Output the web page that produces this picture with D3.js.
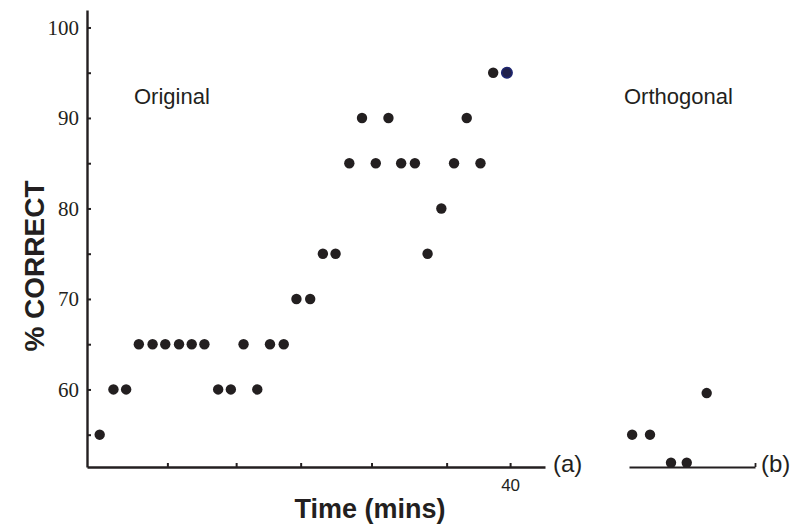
<!DOCTYPE html>
<html>
<head>
<meta charset="utf-8">
<script src="https://cdn.jsdelivr.net/npm/d3@7"></script>
<style>
  body { margin: 0; background: #fff; }
  svg { display: block; }
</style>
</head>
<body>
<div id="chart"></div>
<script>
// data
const origTime = [1.2, 2.5, 3.7, 4.9, 6.2, 7.4, 8.7, 9.9, 11.1, 12.4, 13.6, 14.8, 16.1, 17.3, 18.6, 19.8,
                  21.1, 22.3, 23.5, 24.8, 26.0, 27.3, 28.5, 29.7, 31.0, 32.2, 33.5, 34.7, 35.9, 37.2, 38.4, 39.7];
const origPct = [55, 60, 60, 65, 65, 65, 65, 65, 65, 60, 60, 65, 60, 65, 65, 70,
                 70, 75, 75, 85, 90, 85, 90, 85, 85, 75, 80, 85, 90, 85, 95, 95];
const orthTime = [0.3, 2.0, 4.0, 5.5, 7.4];
const orthPct = [55, 55, 51.9, 51.9, 59.6];
const xTicks = [7.6, 14.1, 20.2, 26.9, 34.0, 40];
const yTicks = [55, 60, 65, 70, 75, 80, 85, 90, 95, 100];

var ink = "#231f20";
var width = 798, height = 531;

var svg = d3.select("#chart")
  .append("svg")
  .attr("width", width)
  .attr("height", height);

// scales
var xA = d3.scaleLinear().domain([0, 43.3]).range([87, 545]);
var xB = d3.scaleLinear().domain([0, 12]).range([629, 755]);
var y = d3.scaleLinear().domain([51.43, 101.93]).range([467, 10]);

// y axis
var yAxis = d3.axisLeft(y)
  .tickValues(yTicks)
  .tickSizeInner(-4)
  .tickSizeOuter(0)
  .tickPadding(8)
  .tickFormat(d => d % 10 === 0 ? d : "");

var gy = svg.append("g")
  .attr("transform", "translate(87,0)")
  .call(yAxis);
gy.select(".domain").attr("stroke", ink).attr("stroke-width", 2.4);
gy.selectAll(".tick line").attr("stroke", ink).attr("stroke-width", 2);
gy.selectAll(".tick text")
  .attr("fill", ink)
  .style("font-family", "'Liberation Serif', 'DejaVu Serif', serif")
  .style("font-size", "21px");

// x axis panel (a)
var xAxisA = d3.axisBottom(xA)
  .tickValues(xTicks)
  .tickSizeInner(-4)
  .tickSizeOuter(0)
  .tickPadding(12)
  .tickFormat(d => d === 40 ? "40" : "");

var gxa = svg.append("g")
  .attr("transform", "translate(0,467)")
  .call(xAxisA);
gxa.select(".domain").attr("stroke", ink).attr("stroke-width", 2.6);
gxa.selectAll(".tick line").attr("stroke", ink).attr("stroke-width", 2);
gxa.selectAll(".tick text")
  .attr("fill", ink)
  .style("font-family", "'Liberation Sans', Arial, sans-serif")
  .style("font-size", "17px");

// x axis panel (b)
var xAxisB = d3.axisBottom(xB)
  .tickValues([12])
  .tickSizeInner(-4)
  .tickSizeOuter(0)
  .tickFormat("");

var gxb = svg.append("g")
  .attr("transform", "translate(0,467)")
  .call(xAxisB);
gxb.select(".domain").attr("stroke", ink).attr("stroke-width", 2.2);
gxb.selectAll(".tick line").attr("stroke", ink).attr("stroke-width", 1.8);

// points
var orig = origTime.map((t, i) => ({t: t, v: origPct[i], last: i === origTime.length - 1}));
var orth = orthTime.map((t, i) => ({t: t, v: orthPct[i]}));

svg.append("g").selectAll("circle")
  .data(orig)
  .enter()
  .append("circle")
  .attr("cx", d => xA(d.t))
  .attr("cy", d => y(d.v))
  .attr("r", 5.2)
  .attr("fill", d => d.last ? "#20204a" : ink)
  .attr("stroke", d => d.last ? "#1e2670" : "none")
  .attr("stroke-width", 1.6);

svg.append("g").selectAll("circle")
  .data(orth)
  .enter()
  .append("circle")
  .attr("cx", d => xB(d.t))
  .attr("cy", d => y(d.v))
  .attr("r", 5.2)
  .attr("fill", ink);

// labels
var sans = "'Liberation Sans', Arial, sans-serif";

svg.append("text")
  .attr("x", 134).attr("y", 104)
  .style("font-family", sans).style("font-size", "22px")
  .attr("fill", ink)
  .text("Original");

svg.append("text")
  .attr("x", 624).attr("y", 104)
  .style("font-family", sans).style("font-size", "22px")
  .attr("fill", ink)
  .text("Orthogonal");

svg.append("text")
  .attr("x", 553).attr("y", 472)
  .style("font-family", sans).style("font-size", "24px")
  .attr("fill", ink)
  .text("(a)");

svg.append("text")
  .attr("x", 761).attr("y", 472)
  .style("font-family", sans).style("font-size", "24px")
  .attr("fill", ink)
  .text("(b)");

svg.append("text")
  .attr("x", 370).attr("y", 518)
  .attr("text-anchor", "middle")
  .style("font-family", sans).style("font-size", "27px").style("font-weight", "bold")
  .attr("fill", ink)
  .text("Time (mins)");

svg.append("text")
  .attr("transform", "translate(44,266) rotate(-90)")
  .attr("text-anchor", "middle")
  .style("font-family", sans).style("font-size", "28px").style("font-weight", "bold")
  .attr("fill", ink)
  .text("% CORRECT");
</script>
</body>
</html>
